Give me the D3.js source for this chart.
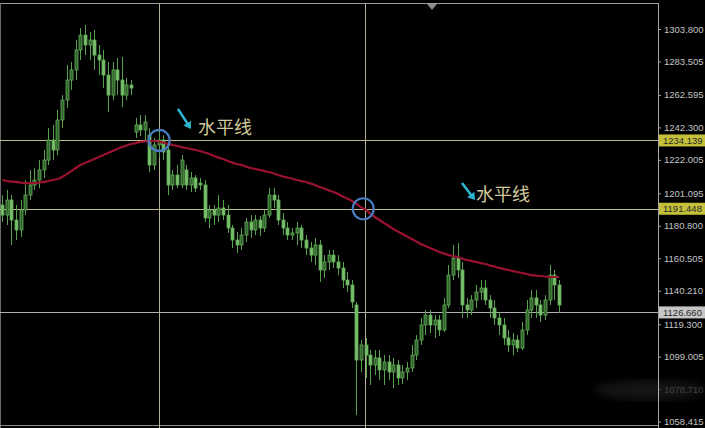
<!DOCTYPE html>
<html><head><meta charset="utf-8">
<script src="https://cdn.jsdelivr.net/npm/d3@7"></script>
<style>html,body{margin:0;padding:0;background:#000;overflow:hidden}</style>
</head><body><svg id="c" width="705" height="428"></svg>
<script>
const opens = [1193.8,1187.5,1196.9,1184.4,1178.2,1190.7,1200.0,1206.3,1209.4,1215.7,
1221.9,1234.4,1228.2,1246.9,1259.4,1271.9,1278.2,1290.7,1300.0,1293.8,
1296.9,1287.5,1284.4,1275.0,1262.5,1278.2,1271.9,1262.5,1268.8,1239.4,
1243.8,1240.7,1237.5,1218.8,1231.3,1234.4,1228.2,1206.3,1212.5,1206.3,
1215.7,1206.3,1210.7,1207.5,1206.3,1185.7,1190.7,1187.5,1191.9,1187.5,
1179.4,1171.9,1168.8,1175.0,1183.2,1178.2,1184.4,1179.4,1187.5,1200.0,
1196.9,1184.4,1179.4,1175.0,1176.3,1179.4,1171.9,1166.9,1162.5,1168.8,
1153.2,1158.2,1162.5,1158.2,1154.4,1146.9,1143.8,1131.3,1096.9,1106.3,
1100.0,1093.8,1098.2,1090.7,1095.7,1089.4,1093.8,1085.7,1089.4,1091.9,
1100.0,1109.4,1118.8,1125.0,1118.8,1121.9,1115.7,1131.3,1150.0,1160.6,
1153.2,1131.3,1128.2,1134.4,1139.4,1141.9,1134.4,1129.4,1123.2,1118.8,
1110.7,1106.3,1109.4,1104.4,1115.7,1128.2,1135.7,1131.3,1125.0,1134.4,
1150.0,1143.8];
const highs = [1200.0,1203.2,1200.0,1193.8,1196.9,1209.4,1215.7,1216.9,1221.9,1228.2,
1241.9,1243.8,1253.2,1262.5,1281.3,1283.2,1296.9,1304.4,1306.3,1301.9,
1303.2,1293.8,1290.7,1283.2,1283.2,1285.7,1286.3,1273.2,1271.9,1248.2,
1250.0,1250.0,1241.9,1235.7,1239.4,1237.5,1231.3,1215.7,1218.8,1225.0,
1218.8,1214.4,1212.5,1210.7,1209.4,1193.8,1193.8,1200.0,1196.9,1193.8,
1181.3,1176.9,1179.4,1185.7,1187.5,1187.5,1186.9,1190.7,1204.4,1204.4,
1200.0,1188.8,1183.2,1179.4,1183.2,1181.3,1175.0,1170.7,1173.2,1171.9,
1162.5,1165.7,1165.7,1162.5,1158.2,1151.9,1146.9,1133.2,1109.4,1110.7,
1103.2,1103.2,1103.2,1100.0,1100.0,1098.2,1096.9,1093.8,1095.7,1106.3,
1112.5,1123.2,1128.2,1128.2,1125.0,1125.0,1135.7,1156.3,1168.8,1170.0,
1158.2,1135.7,1137.5,1143.8,1146.9,1146.9,1137.5,1134.4,1126.9,1123.2,
1115.7,1113.8,1112.5,1120.7,1134.4,1140.7,1140.7,1134.4,1137.5,1156.3,
1153.2,1146.9];
const lows = [1183.2,1181.3,1168.8,1171.9,1173.8,1187.5,1196.9,1203.2,1204.4,1210.7,
1218.8,1221.9,1225.0,1241.9,1254.4,1265.7,1271.9,1284.4,1287.5,1284.4,
1278.2,1275.0,1266.9,1251.9,1259.4,1262.5,1255.0,1259.4,1262.5,1235.7,
1236.9,1234.4,1214.4,1215.7,1223.2,1221.9,1200.0,1203.2,1204.4,1204.4,
1203.2,1201.9,1201.9,1203.2,1183.2,1179.4,1181.3,1183.2,1184.4,1176.3,
1166.9,1163.8,1165.7,1170.7,1173.2,1175.0,1174.4,1176.9,1185.7,1191.9,
1181.3,1175.0,1171.9,1171.9,1168.8,1166.9,1162.5,1158.2,1156.3,1145.7,
1148.2,1153.2,1154.4,1150.0,1141.9,1139.4,1129.4,1062.5,1089.4,1085.7,
1081.3,1087.5,1084.4,1081.3,1084.4,1079.4,1081.3,1081.9,1084.4,1089.4,
1096.9,1106.3,1112.5,1113.8,1110.7,1111.9,1114.4,1129.4,1146.9,1148.2,
1123.2,1123.2,1125.0,1129.4,1134.4,1131.3,1123.2,1118.8,1112.5,1106.3,
1101.9,1100.0,1101.9,1103.2,1112.5,1123.2,1123.2,1120.7,1121.9,1131.3,
1134.4,1126.3];
const closes = [1187.5,1196.9,1184.4,1178.2,1190.7,1200.0,1206.3,1209.4,1215.7,1221.9,
1234.4,1228.2,1246.9,1259.4,1271.9,1278.2,1290.7,1300.0,1293.8,1296.9,
1287.5,1284.4,1275.0,1262.5,1278.2,1271.9,1262.5,1268.8,1266.9,1243.8,
1240.7,1245.7,1218.8,1231.3,1234.4,1226.9,1206.3,1212.5,1206.3,1221.9,
1206.3,1210.7,1204.4,1206.3,1185.7,1190.7,1187.5,1191.9,1187.5,1179.4,
1171.9,1168.8,1175.0,1183.2,1178.2,1184.4,1179.4,1187.5,1200.0,1196.9,
1184.4,1179.4,1175.0,1176.3,1179.4,1171.9,1166.9,1162.5,1168.8,1153.2,
1158.2,1162.5,1158.2,1154.4,1146.9,1143.8,1133.2,1096.9,1106.3,1100.0,
1093.8,1098.2,1090.7,1095.7,1089.4,1093.8,1085.7,1089.4,1091.9,1100.0,
1109.4,1118.8,1125.0,1118.8,1121.9,1115.7,1131.3,1150.0,1160.6,1153.2,
1131.3,1128.2,1134.4,1139.4,1141.9,1134.4,1129.4,1123.2,1118.8,1110.7,
1106.3,1109.4,1104.4,1115.7,1128.2,1135.7,1131.3,1125.0,1134.4,1150.0,
1143.8,1131.3];
const maValues = [1209.4,1208.8,1208.4,1208.2,1207.8,1207.5,1207.5,1207.5,1207.8,1208.2,
1208.8,1209.4,1210.0,1211.3,1213.1,1215.0,1216.9,1218.8,1220.0,1221.3,
1222.5,1223.8,1225.0,1226.3,1227.5,1228.8,1230.0,1231.0,1231.9,1232.5,
1233.2,1233.5,1233.8,1233.8,1233.5,1232.8,1231.9,1231.3,1230.7,1230.0,
1229.4,1228.8,1228.2,1227.5,1226.6,1225.7,1224.4,1223.4,1222.5,1221.3,
1220.3,1219.4,1218.8,1217.8,1216.9,1216.3,1215.7,1215.0,1214.4,1213.5,
1212.5,1211.6,1211.0,1210.3,1209.4,1208.8,1208.2,1207.2,1206.3,1205.0,
1204.1,1202.8,1201.9,1200.6,1199.1,1197.8,1196.3,1194.4,1192.5,1190.7,
1188.5,1186.3,1184.4,1182.5,1180.7,1178.8,1177.2,1175.7,1174.1,1172.5,
1171.0,1169.4,1168.2,1166.9,1165.7,1164.4,1163.5,1162.5,1161.9,1161.3,
1160.3,1159.4,1158.8,1158.2,1157.5,1156.9,1156.0,1155.3,1154.4,1153.8,
1153.2,1152.5,1151.9,1151.3,1150.7,1150.0,1149.7,1149.4,1149.1,1148.8,
1148.8,1148.8];
const tickLabels = [1303.800,1283.505,1262.595,1242.300,1222.005,1201.095,1180.800,1160.505,1140.210,1119.300,1099.005,1078.710,1058.415];
const hLevels = [1234.139,1191.448,1126.660];
const hLevelNames = ["yellow","yellow","gray"];
const vLineIdx = [34, 78.8];
const annotationText = ["水平线","水平线"];

const W = 705, H = 428, plotRight = 658;
const N = closes.length;
const svg = d3.select("#c");
svg.append("rect").attr("width",W).attr("height",H).attr("fill","#000");

const x = d3.scaleLinear().domain([0, N-1]).range([2.3, 2.3 + 4.6*(N-1)]);
const y = d3.scaleLinear().domain([1058.415, 1303.8]).range([421.6, 29]);

const g = svg.append("g");
// frame
g.append("line").attr("x1",0).attr("x2",plotRight).attr("y1",3.5).attr("y2",3.5).attr("stroke","#9a9a9a");
g.append("line").attr("x1",0.5).attr("x2",0.5).attr("y1",3).attr("y2",428).attr("stroke","#6a6a6a");
g.append("line").attr("x1",plotRight+0.5).attr("x2",plotRight+0.5).attr("y1",3).attr("y2",428).attr("stroke","#a8a8a8");
g.append("line").attr("x1",0).attr("x2",plotRight).attr("y1",425.5).attr("y2",425.5).attr("stroke","#8a8a8a");
// top marker
g.append("path").attr("d",`M427,4 L437,4 L432,10 Z`).attr("fill","#8a8a8a");

// horizontal levels
const hColor = {yellow:"#c2bd88", gray:"#b0b0b0"};
hLevels.forEach((v,i)=>{
  g.append("line").attr("x1",0).attr("x2",plotRight).attr("y1",Math.round(y(v))+0.5).attr("y2",Math.round(y(v))+0.5)
   .attr("stroke",hColor[hLevelNames[i]]).attr("stroke-width",1);
});
// vertical lines
vLineIdx.forEach(v=>{
  g.append("line").attr("x1",Math.round(x(v))+0.5).attr("x2",Math.round(x(v))+0.5).attr("y1",4).attr("y2",428)
   .attr("stroke","#b3af92").attr("stroke-width",1);
});

// candles
const cg = g.append("g");
d3.range(N).forEach(i=>{
  const cx = Math.round(x(i))+0.5;
  const up = closes[i] >= opens[i];
  cg.append("line").attr("x1",cx).attr("x2",cx).attr("y1",y(highs[i])).attr("y2",y(lows[i]))
    .attr("stroke","#56a04e").attr("stroke-width",1);
  const top = y(Math.max(opens[i],closes[i])), bot = y(Math.min(opens[i],closes[i]));
  cg.append("rect").attr("x",cx-1.5).attr("y",top).attr("width",3).attr("height",Math.max(1,bot-top))
    .attr("fill", up ? "#2f652c" : "#79be6c").attr("stroke","#62ad58").attr("stroke-width",0.8);
});

// moving average
g.append("path").datum(maValues)
  .attr("d", d3.line().x((d,i)=>x(i)).y(d=>y(d)).curve(d3.curveMonotoneX))
  .attr("fill","none").attr("stroke","#9a1230").attr("stroke-width",2.2);

// circles at intersections
[[vLineIdx[0],hLevels[0]],[vLineIdx[1]-0.45,hLevels[1]]].forEach(([a,b])=>{
  g.append("circle").attr("cx",x(a)+0.5).attr("cy",y(b)).attr("r",10.5)
   .attr("fill","none").attr("stroke","#4a7cc0").attr("stroke-width",2.2);
});

// annotations
function arrow(x0,y0,x1,y1){
  const dx=x1-x0, dy=y1-y0, L=Math.hypot(dx,dy), ux=dx/L, uy=dy/L, px=-uy, py=ux;
  const hx=x1-ux*7, hy=y1-uy*7;
  const pts=[[x0+px*1.3,y0+py*1.3],[hx+px*1.3,hy+py*1.3],[hx+px*4.5,hy+py*4.5],[x1,y1],
             [hx-px*4.5,hy-py*4.5],[hx-px*1.3,hy-py*1.3],[x0-px*1.3,y0-py*1.3]];
  g.append("path").attr("d","M"+pts.map(p=>p.join(",")).join("L")+"Z").attr("fill","#2fb3cf");
}
arrow(178,109,191,129);
arrow(462,183,475,200);
const annPos = [[198,134],[476,201]];
annotationText.forEach((t,i)=>{
  g.append("text").attr("x",annPos[i][0]).attr("y",annPos[i][1]).text(t)
   .attr("font-family","'Noto Sans CJK SC'").attr("font-size",18).attr("fill","#d2c99c");
});

// right axis
const ax = svg.append("g").attr("transform",`translate(${plotRight},0)`)
  .call(d3.axisRight(y).tickValues(tickLabels).tickFormat(d3.format(".3f")).tickSize(3).tickPadding(3));
ax.select(".domain").remove();
ax.selectAll(".tick line").attr("stroke","#a0a0a0");
ax.selectAll(".tick text").attr("fill","#c4c4c4").attr("font-family","'Liberation Sans'").attr("font-size",9.5);
ax.selectAll(".tick").filter(d=>d===1078.710).attr("opacity",0.25);

// level labels
const lblBg = {yellow:"#c4c03a", gray:"#c6c6c6"};
hLevels.forEach((v,i)=>{
  const yy = y(v);
  svg.append("rect").attr("x",plotRight+1).attr("y",yy-6).attr("width",W-plotRight-1).attr("height",12)
    .attr("fill",lblBg[hLevelNames[i]]);
  svg.append("text").attr("x",plotRight+5).attr("y",yy+3.5).text(d3.format(".3f")(v))
    .attr("fill","#2a2a2a").attr("font-family","'Liberation Sans'").attr("font-size",9.5);
});

// faint watermark smudge
const defs = svg.append("defs");
defs.append("filter").attr("id","bl").append("feGaussianBlur").attr("stdDeviation",4);
svg.append("ellipse").attr("cx",650).attr("cy",390).attr("rx",55).attr("ry",10)
  .attr("fill","#ffffff").attr("opacity",0.08).attr("filter","url(#bl)");
</script></body></html>
